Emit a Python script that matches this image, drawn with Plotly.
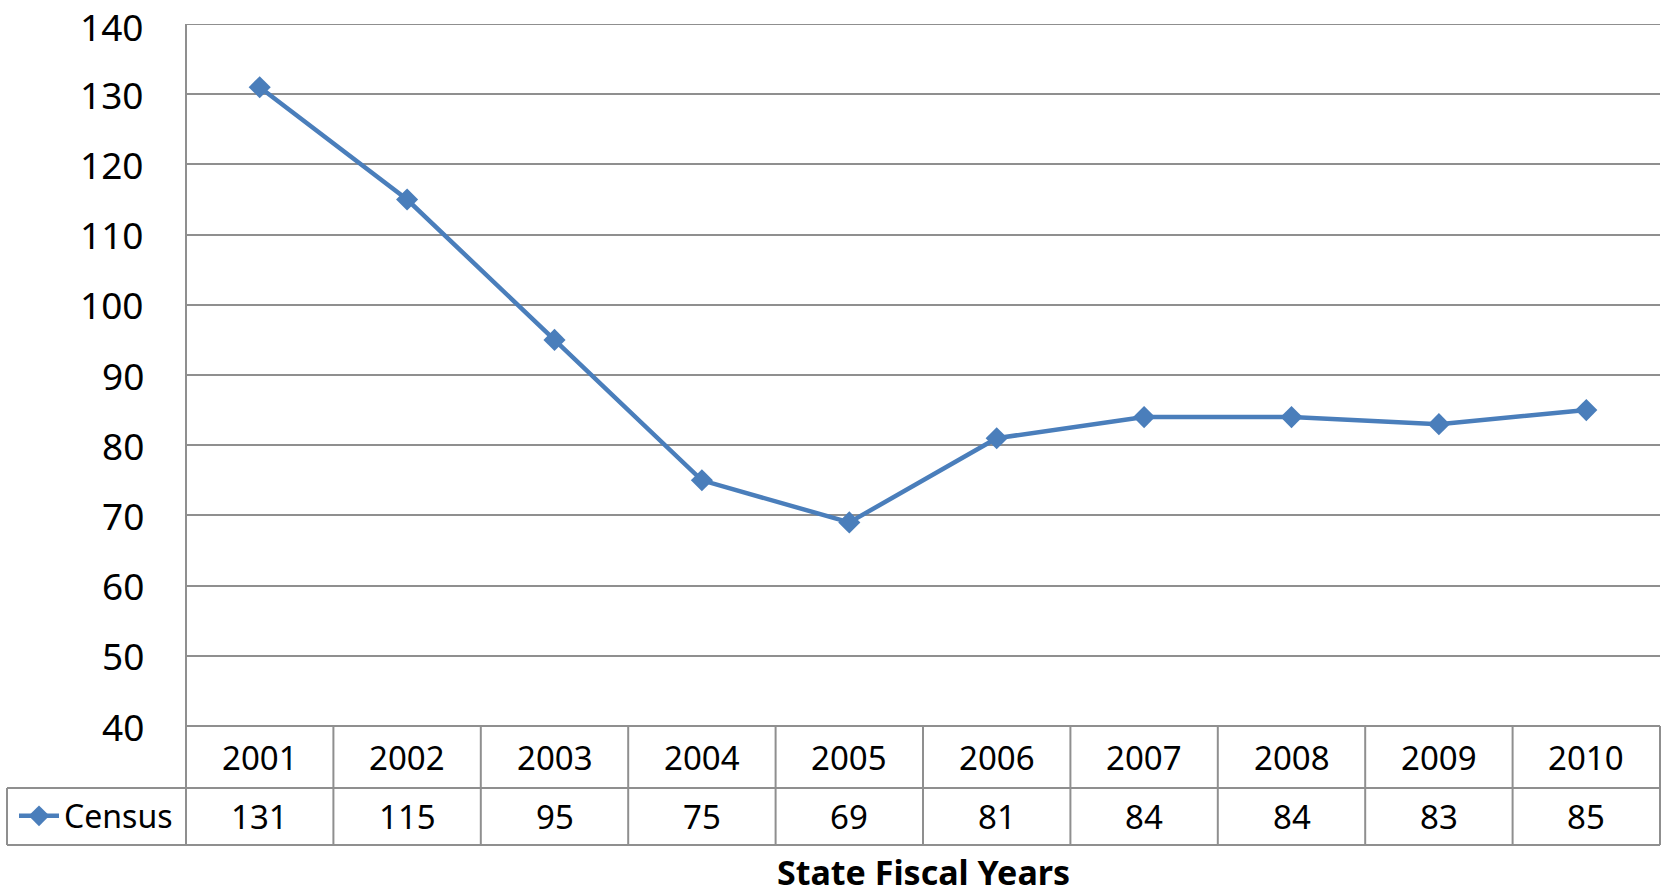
import plotly.graph_objects as go

years = ["2001", "2002", "2003", "2004", "2005", "2006", "2007", "2008", "2009", "2010"]
census = [131, 115, 95, 75, 69, 81, 84, 84, 83, 85]
series_name = "Census"
x_title = "State Fiscal Years"
y_ticks = [40, 50, 60, 70, 80, 90, 100, 110, 120, 130, 140]

W, H = 1665, 895
L, R, T, B = 186, 1660, 24, 726  # plot area in pixels

PW, PH = R - L, B - T

def px(x):
    return (x - L) / PW

def py(y):
    return (B - y) / PH

LINE = "#4a7ebb"
GRID = "#8f8f8f"
FONT = "Noto Sans"

fig = go.Figure()
fig.add_trace(go.Scatter(
    x=list(range(len(years))), y=census, mode="lines+markers", name=series_name,
    line=dict(color=LINE, width=4.5),
    marker=dict(symbol="diamond", size=17, color=LINE),
    showlegend=True, cliponaxis=False,
))

shapes = []
def seg(x0, y0, x1, y1):
    shapes.append(dict(type="line", xref="paper", yref="paper",
                       x0=px(x0), y0=py(y0), x1=px(x1), y1=py(y1),
                       line=dict(color=GRID, width=2)))

row1_bot, row2_bot = 788, 845
seg(L, T, L, row2_bot)
seg(L, B, R, B)
seg(7, row1_bot, R, row1_bot)
seg(7, row2_bot, R, row2_bot)
seg(7, row1_bot, 7, row2_bot)
seg(R, B, R, row2_bot)
col_w = PW / len(years)
for i in range(1, len(years)):
    xx = L + i * col_w
    seg(xx, B, xx, row2_bot)
# top gridline at the range edge
shapes.append(dict(type="line", xref="paper", yref="y", x0=0, x1=1, y0=y_ticks[-1], y1=y_ticks[-1],
                   line=dict(color=GRID, width=2)))

annotations = []
for v in y_ticks:
    annotations.append(dict(x=px(146), y=v, xref="paper", yref="y", text=str(v),
                            showarrow=False, xanchor="right", yanchor="middle",
                            yshift=-2 if v == y_ticks[-1] else 0,
                            font=dict(family=FONT, size=37, color="black")))
for i, (yr, v) in enumerate(zip(years, census)):
    annotations.append(dict(x=i, y=py(757), xref="x", yref="paper",
                            text=yr, showarrow=False, xanchor="center", yanchor="middle",
                            font=dict(family=FONT, size=33, color="black")))
    annotations.append(dict(x=i, y=py(816), xref="x", yref="paper",
                            text=str(v), showarrow=False, xanchor="center", yanchor="middle",
                            font=dict(family=FONT, size=33, color="black")))

annotations.append(dict(x=px(923), y=py(872), xref="paper", yref="paper",
                        text="<b>" + x_title + "</b>", showarrow=False, xanchor="center",
                        yanchor="middle", font=dict(family=FONT, size=34, color="black")))

fig.update_layout(
    width=W, height=H,
    margin=dict(l=L, r=W - R, t=T, b=H - B, pad=0),
    paper_bgcolor="white", plot_bgcolor="white",
    shapes=shapes, annotations=annotations,
    legend=dict(x=px(14), y=py(816), xanchor="left", yanchor="middle",
                bgcolor="rgba(0,0,0,0)", borderwidth=0,
                font=dict(family=FONT, size=32, color="black"),
                itemwidth=40, tracegroupgap=0),
    xaxis=dict(range=[-0.5, len(years) - 0.5], showticklabels=False, showgrid=False,
               zeroline=False, showline=False, fixedrange=True),
    yaxis=dict(range=[40, 140], tickvals=y_ticks, showgrid=True, gridcolor=GRID, gridwidth=2,
               zeroline=False, showline=False, ticks="", showticklabels=False,
               fixedrange=True),
)

fig.write_html("out.html", config={"displayModeBar": False},
               post_script="document.body.style.margin='0px';document.body.style.overflow='hidden';")
